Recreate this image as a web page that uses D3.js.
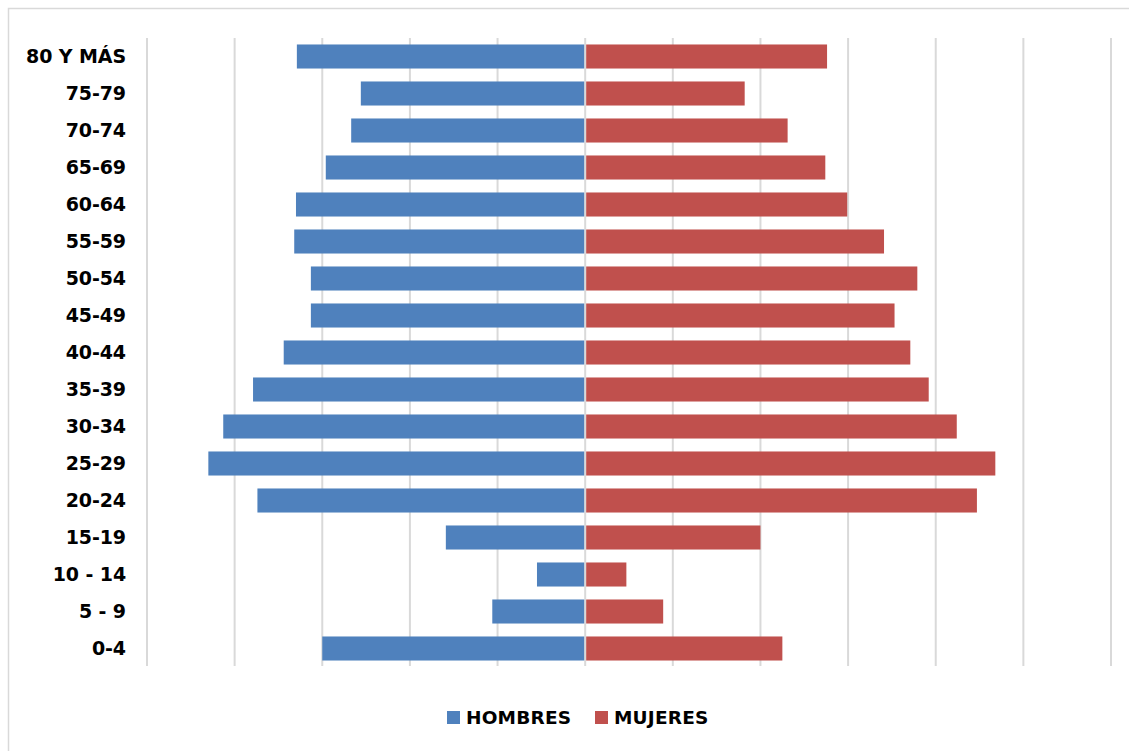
<!DOCTYPE html>
<html lang="es">
<head>
<meta charset="utf-8">
<script src="https://d3js.org/d3.v7.min.js"></script>
<style>
    body { margin: 0; background: #fff; }
    svg text { font-family: "DejaVu Sans", "Liberation Sans", Arial, sans-serif; font-weight: bold; fill: #000; }
</style>
</head>
<body>
<svg id="chart" width="1129" height="751"></svg>
<script>
// age groups, top to bottom
const groups = ['80 Y MÁS', '75-79', '70-74', '65-69', '60-64', '55-59', '50-54', '45-49',
                '40-44', '35-39', '30-34', '25-29', '20-24', '15-19', '10 - 14', '5 - 9', '0-4'];
// values (one gridline = 1 unit)
const hombres = [3.29, 2.56, 2.67, 2.96, 3.30, 3.32, 3.13, 3.13, 3.44, 3.79, 4.13, 4.30, 3.74, 1.59, 0.55, 1.06, 3.00];
const mujeres = [2.76, 1.82, 2.31, 2.74, 2.99, 3.41, 3.79, 3.53, 3.71, 3.92, 4.24, 4.68, 4.47, 2.00, 0.47, 0.89, 2.25];
const series = ['HOMBRES', 'MUJERES'];
const colors = ['#4f81bd', '#c0504d'];

const svg = d3.select('#chart');

// outer chart border
svg.append('rect')
   .attr('x', 8.5).attr('y', 8.5)
   .attr('width', 1140).attr('height', 760)
   .attr('fill', 'none')
   .attr('stroke', '#d9d9d9')
   .attr('stroke-width', 1.5);

const x = d3.scaleLinear().domain([-5, 6]).range([147, 1111]);
const y = d3.scaleBand().domain(groups).range([38, 667]).paddingInner(0.35).paddingOuter(0.175);

// vertical gridlines
svg.append('g')
   .selectAll('line')
   .data(d3.range(-5, 7))
   .join('line')
   .attr('x1', d => x(d)).attr('x2', d => x(d))
   .attr('y1', 38).attr('y2', 666)
   .attr('stroke', '#d9d9d9')
   .attr('stroke-width', 2);

// bars
svg.append('g')
   .selectAll('rect')
   .data(groups)
   .join('rect')
   .attr('x', (d, i) => x(-hombres[i]))
   .attr('y', d => y(d))
   .attr('width', (d, i) => x(0) - 1 - x(-hombres[i]))
   .attr('height', y.bandwidth())
   .attr('fill', colors[0]);

svg.append('g')
   .selectAll('rect')
   .data(groups)
   .join('rect')
   .attr('x', x(0) + 1)
   .attr('y', d => y(d))
   .attr('width', (d, i) => x(mujeres[i]) - x(0) - 1)
   .attr('height', y.bandwidth())
   .attr('fill', colors[1]);

// category labels
svg.append('g')
   .selectAll('text')
   .data(groups)
   .join('text')
   .attr('x', 126)
   .attr('y', d => y(d) + y.bandwidth() / 2)
   .attr('dy', '0.36em')
   .attr('text-anchor', 'end')
   .style('font-size', '19px')
   .style('letter-spacing', '-0.1px')
   .text(d => d);

// legend
const legendX = [447, 595];
const legend = svg.append('g')
   .selectAll('g')
   .data(series)
   .join('g')
   .attr('transform', (d, i) => `translate(${legendX[i]}, 711)`);
legend.append('rect')
   .attr('width', 13).attr('height', 13)
   .attr('fill', (d, i) => colors[i]);
legend.append('text')
   .attr('x', 19).attr('y', 13)
   .style('font-size', '18.5px')
   .style('letter-spacing', '0.2px')
   .text(d => d);
</script>
</body>
</html>
